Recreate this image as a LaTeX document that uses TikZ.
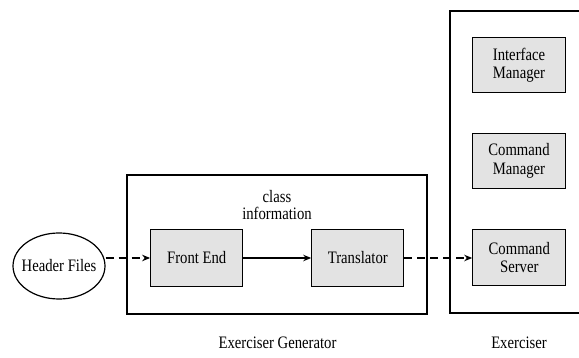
\documentclass[tikz,border=0pt]{standalone}
\usepackage{fontspec}
\setmainfont[FakeStretch=0.84]{Liberation Serif}
\usetikzlibrary{arrows.meta,shapes.geometric}
\begin{document}
\begin{tikzpicture}[x=1pt,y=-1pt,
  txt/.style={font=\fontsize{17.5}{17}\selectfont, align=center, inner sep=0pt},
  comp/.style={draw=black, line width=1.2pt, fill=gray!22, minimum width=92pt, minimum height=57pt, inner sep=0pt, align=center, font=\fontsize{17.5}{18.5}\selectfont},
  group/.style={draw=black, line width=1.3pt},
  conn/.style={line width=1.2pt, -{Stealth[length=8pt,width=6.5pt]}},
  dashconn/.style={conn, dash pattern=on 8pt off 5pt}
]
\useasboundingbox (0,0) rectangle (579,358);
% group boxes
\node[group, minimum width=300pt, minimum height=139pt, inner sep=0pt] (gen) at (277,244.5) {};
\draw[group] (582,11) -- (450,11) -- (450,313) -- (582,313);
% components
\node[draw=black, line width=1.2pt, ellipse, minimum width=92pt, minimum height=66pt, inner xsep=-7pt, inner ysep=0pt, font=\fontsize{17.5}{17}\selectfont] (hdr) at (59,266) {Header Files};
\node[comp] (fe) at (196.7,258) {Front End};
\node[comp] (tr) at (357.8,258) {Translator};
\node[comp, minimum width=93pt, minimum height=56pt] (cs) at (519.3,257.5) {Command\\Server};
\node[comp, minimum width=93pt, minimum height=55pt] (im) at (519,65) {Interface\\Manager};
\node[comp, minimum width=93pt, minimum height=55pt] (cm) at (519,160.7) {Command\\Manager};
% texts
\node[txt] (ci) at (277,205) {class\\information};
\node[txt] (lg) at (277.5,343) {Exerciser Generator};
\node[txt] (le) at (519,343) {Exerciser};
% connectors
\draw[dashconn] (hdr.east |- fe.west) -- (fe.west);
\draw[conn] (fe.east) -- (tr.west);
\draw[dashconn] (tr.east) -- (cs.west |- tr.east);
\end{tikzpicture}
\end{document}
